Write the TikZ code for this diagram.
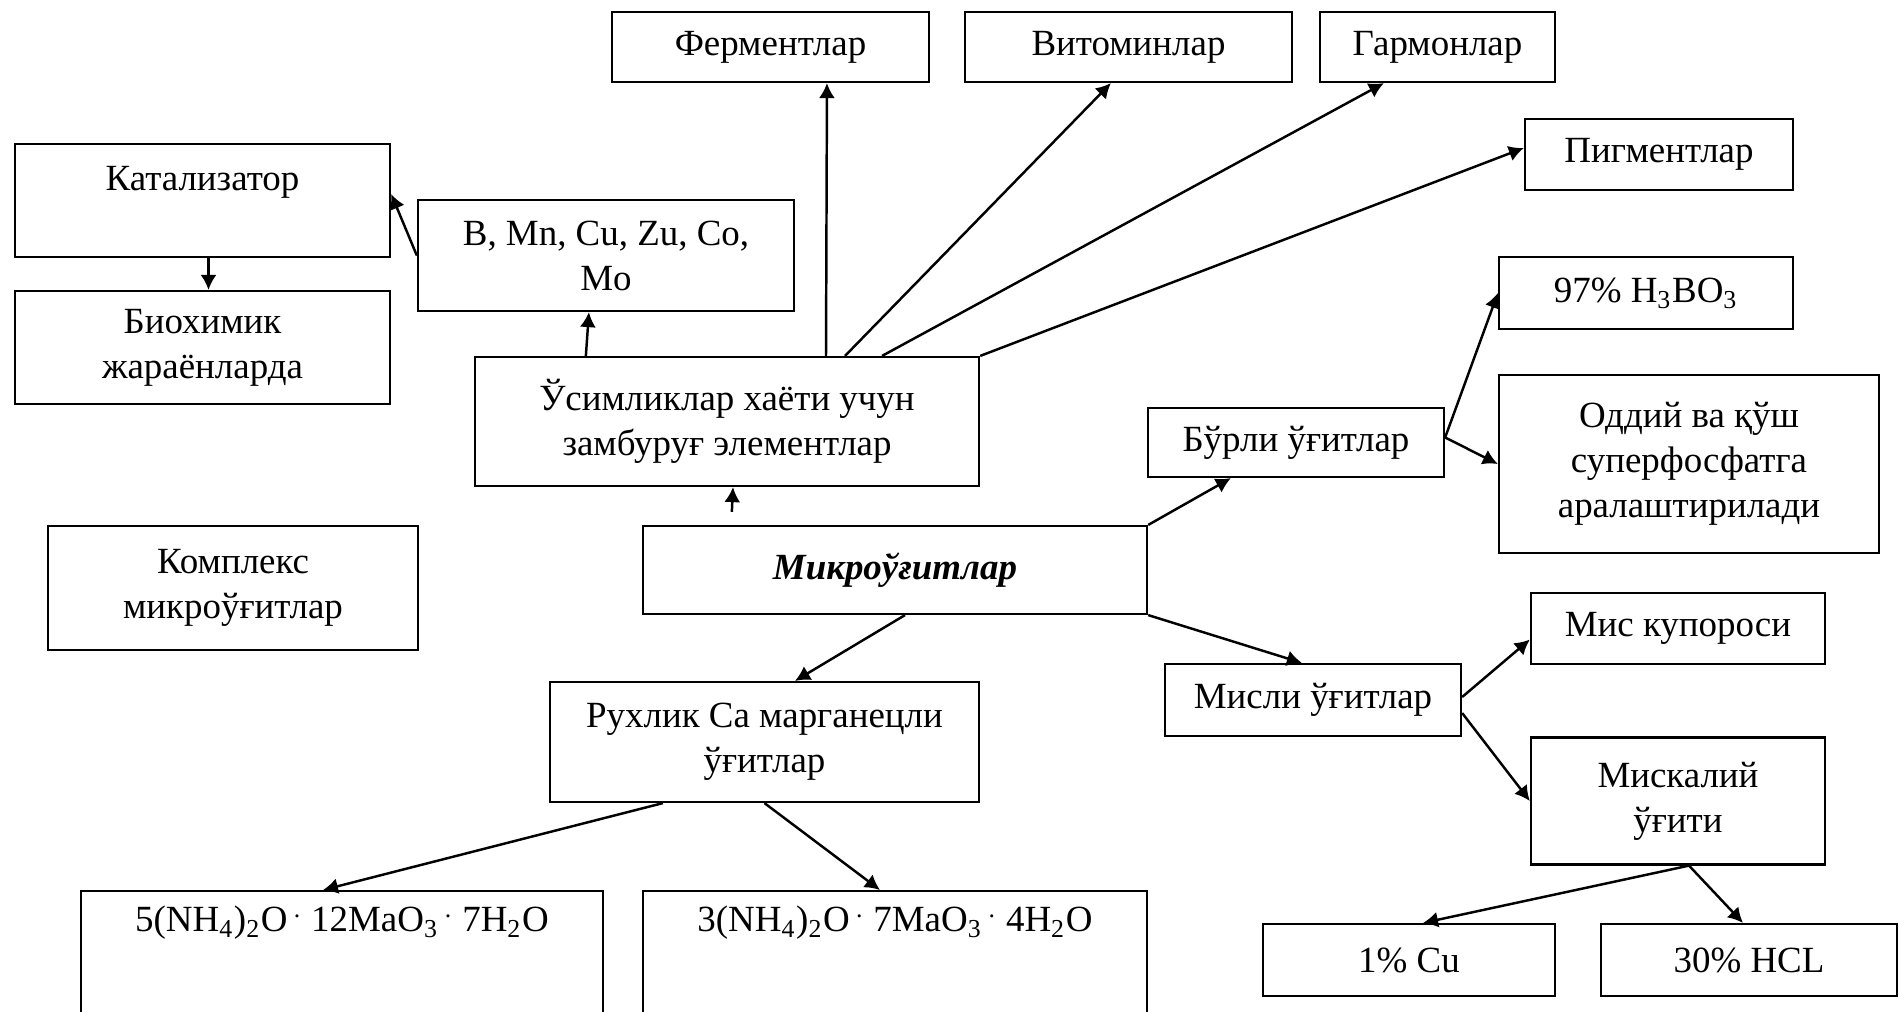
\documentclass[tikz,border=0pt]{standalone}
\usepackage{fontspec}
\setmainfont{Liberation Serif}
\usetikzlibrary{arrows.meta}

\begin{document}
\begin{tikzpicture}[
    x=0.01cm, y=-0.01cm,
    font=\fontsize{10.5}{12.8}\selectfont,
    box/.style={draw, line width=0.6pt, align=center, inner sep=2pt},
    fl/.style={-{Latex[length=1.5mm, width=1.6mm]}, line width=0.7pt}
]
  \useasboundingbox (0,0) rectangle (1899,1011);

  % ================= Юқори қатор =================
  \node[box, minimum width=3.17cm, minimum height=0.70cm] (ferm)  at (770.5,47)   {Ферментлар};
  \node[box, minimum width=3.27cm, minimum height=0.70cm] (vitom) at (1128.5,47)  {Витоминлар};
  \node[box, minimum width=2.35cm, minimum height=0.70cm] (garm)  at (1437.5,47)  {Гармонлар};
  \node[box, minimum width=2.68cm, minimum height=0.71cm] (pigm)  at (1659,154.5) {Пигментлар};

  % ================= Чап томон =================
  \node[box, minimum width=3.75cm, minimum height=1.13cm] (katal) at (202.5,200.5) {Катализатор\\~};
  \node[box, minimum width=3.75cm, minimum height=1.13cm] (bioch) at (202.5,347.5) {Биохимик\\жараёнларда};
  \node[box, minimum width=3.76cm, minimum height=1.11cm] (elem)  at (606,255.5)   {B, Mn, Cu, Zu, Co,\\Mo};
  \node[box, minimum width=5.04cm, minimum height=1.29cm] (usim)  at (727,421.5)   {Ўсимликлар хаёти учун\\замбуруғ элементлар};
  \node[box, minimum width=3.70cm, minimum height=1.24cm] (kompl) at (233,588)     {Комплекс\\микроўғитлар};

  % ================= Марказ =================
  \node[box, minimum width=5.04cm, minimum height=0.88cm] (mikro) at (895,570) {\textbf{\textit{Микроўғитлар}}};
  \node[box, minimum width=4.29cm, minimum height=1.20cm] (rukh)  at (764.5,742) {Рухлик Са марганецли\\ўғитлар};
  \node[box, anchor=north, minimum width=5.22cm, minimum height=1.9cm] (amm5) at (342,890)
      {5(NH\textsubscript{4})\textsubscript{2}O\,\textsuperscript{.} 12MaO\textsubscript{3}\,\textsuperscript{.} 7H\textsubscript{2}O\\~\\~\\~};
  \node[box, anchor=north, minimum width=5.04cm, minimum height=1.9cm] (amm3) at (895,890)
      {3(NH\textsubscript{4})\textsubscript{2}O\,\textsuperscript{.} 7MaO\textsubscript{3}\,\textsuperscript{.} 4H\textsubscript{2}O\\~\\~\\~};

  % ================= Ўнг томон =================
  \node[box, minimum width=2.96cm, minimum height=0.69cm] (burli)  at (1296,442.5) {Бўрли ўғитлар};
  \node[box, minimum width=2.94cm, minimum height=0.72cm] (h3bo3)  at (1646,293)   {97\% H\textsubscript{3}BO\textsubscript{3}};
  \node[box, minimum width=3.80cm, minimum height=1.78cm] (oddiy)  at (1689,464)   {Оддий ва қўш\\суперфосфатга\\аралаштирилади};
  \node[box, minimum width=2.96cm, minimum height=0.72cm] (misli)  at (1313,700)   {Мисли ўғитлар};
  \node[box, minimum width=2.94cm, minimum height=0.71cm] (kupor)  at (1678,628.5) {Мис купороси};
  \node[box, minimum width=2.94cm, minimum height=1.27cm] (miskal) at (1678,801)   {Мискалий\\ўғити};
  \node[box, minimum width=2.92cm, minimum height=0.72cm] (cu)     at (1409,960)   {1\% Cu};
  \node[box, minimum width=2.95cm, minimum height=0.72cm] (hcl)    at (1749,960)   {30\% HCL};

  % ================= Боғланишлар =================
  \draw[fl] ([xshift=3.52cm]usim.north west) -- ([xshift=2.16cm]ferm.south west);
  \draw[fl] ([xshift=3.71cm]usim.north west) -- ([xshift=1.47cm]vitom.south west);
  \draw[fl] ([xshift=4.08cm]usim.north west) -- ([xshift=0.65cm]garm.south west);
  \draw[fl] (usim.north east) -- ([yshift=-0.30cm]pigm.north west);
  \draw[fl] ([xshift=1.12cm]usim.north west) -- ([xshift=1.72cm]elem.south west);
  \draw[fl] (elem.west) -- ([yshift=-0.51cm]katal.north east);
  \draw[fl] ([xshift=0.06cm]katal.south) -- ([xshift=0.06cm]bioch.north);

  \draw[fl] ([xshift=0.90cm, yshift=0.13cm]mikro.north west) -- ([xshift=0.06cm]usim.south);
  \draw[fl] (mikro.north east) -- ([xshift=0.84cm]burli.south west);
  \draw[fl] (mikro.south east) -- ([xshift=1.38cm]misli.north west);
  \draw[fl] ([xshift=2.63cm]mikro.south west) -- ([xshift=2.46cm]rukh.north west);

  \draw[fl] ([yshift=0.05cm]burli.east) -- (h3bo3.west);
  \draw[fl] ([yshift=0.05cm]burli.east) -- (oddiy.west);
  \draw[fl] ([yshift=0.03cm]misli.east) -- ([yshift=-0.11cm]kupor.west);
  \draw[fl] ([yshift=-0.13cm]misli.east) -- (miskal.west);
  \draw[fl] ([xshift=0.11cm]miskal.south) -- ([xshift=0.14cm]cu.north);
  \draw[fl] ([xshift=0.11cm]miskal.south) -- ([xshift=-0.06cm]hcl.north);

  \draw[fl] ([xshift=1.14cm]rukh.south west) -- ([xshift=-0.19cm]amm5.north);
  \draw[fl] (rukh.south) -- ([xshift=-0.15cm]amm3.north);

\end{tikzpicture}
\end{document}
